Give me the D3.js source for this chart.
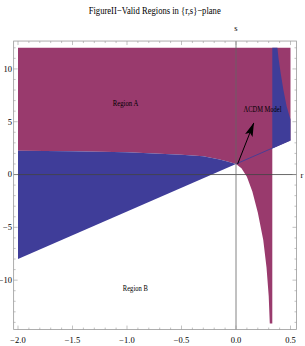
<!DOCTYPE html>
<html>
<head>
<meta charset="utf-8">
<script src="https://cdn.jsdelivr.net/npm/d3@7"></script>
<style>
  body { margin: 0; background: #fff; }
  svg { display: block; font-family: "Liberation Serif", "DejaVu Serif", serif; }
</style>
</head>
<body>
<svg id="chart" width="305" height="346"></svg>
<script>
// tick values
var xTicks = [-2, -1.5, -1, -0.5, 0, 0.5];
var yTicks = [-10, -5, 0, 5, 10];
var xTickLabels = ["\u22122.0", "\u22121.5", "\u22121.0", "\u22120.5", "0.0", "0.5"];
var yTickLabels = ["\u221210", "\u22125", "0", "5", "10"];

// region boundaries, [r, s]
var blueTopLeft = [[-2, 2.25], [-1.5, 2.2], [-1.0, 2.1], [-0.5, 1.88], [-0.3, 1.72], [-0.15, 1.42], [-0.07, 1.22], [0, 1.0]];
var lowerLine = [[-2, -8], [0, 1], [0.333, 2.5], [0.5, 3.25]];
var cuspEdge = [[0, 1], [0.05, 0.6], [0.1, -0.2], [0.15, -1.6], [0.2, -3.6], [0.25, -6.2], [0.28, -8.8], [0.3, -11.5], [0.31, -14.1]];
var rightBlueEdge = [[0.38, 12], [0.39, 11], [0.41, 9.6], [0.435, 8.0], [0.465, 6.45], [0.5, 5.2]];
var sTop = 12, sBottom = -14.1, rLeft = -2, rRight = 0.5, rWall = 0.333;

var arrowFrom = [0.015, 1.0], arrowTo = [0.163, 4.88];

var magenta = "#993a6d", blue = "#3f3d99";

var svg = d3.select("#chart");

var x = d3.scaleLinear().domain([-2, 0.5]).range([18, 290.5]);
var y = d3.scaleLinear().domain([-14.2, 12]).range([324.5, 47.8]);

var fx0 = x(-2.04), fx1 = x(0.555), fy0 = y(12.64), fy1 = y(-14.68);

var line = d3.line().x(function(d){ return x(d[0]); }).y(function(d){ return y(d[1]); });

// magenta region (Region A)
var magentaPoly = [[rLeft, sTop], [rRight, sTop], [rRight, 3.25], [rWall, 2.5], [rWall, sBottom]]
    .concat(cuspEdge.slice().reverse())
    .concat(blueTopLeft.slice().reverse());
svg.append("path").attr("d", line(magentaPoly) + "Z").attr("fill", magenta);

// blue on the left
var blueLeftPoly = blueTopLeft.concat([lowerLine[1], lowerLine[0]]);
svg.append("path").attr("d", line(blueLeftPoly) + "Z").attr("fill", blue);

// blue on the right
var blueRightPoly = [[rWall, sTop]].concat(rightBlueEdge).concat([[rRight, 3.25], [rWall, 2.5]]);
svg.append("path").attr("d", line(blueRightPoly) + "Z").attr("fill", blue);

// thin blue line r>0
svg.append("path").attr("d", line(lowerLine.slice(1)))
    .attr("fill", "none").attr("stroke", blue).attr("stroke-width", 0.9);

// axes through origin
svg.append("line").attr("x1", fx0).attr("x2", fx1).attr("y1", y(0)).attr("y2", y(0))
    .attr("stroke", "#444").attr("stroke-width", 0.8);
svg.append("line").attr("x1", x(0)).attr("x2", x(0)).attr("y1", fy0).attr("y2", fy1)
    .attr("stroke", "#666").attr("stroke-width", 0.8);

// frame
svg.append("rect").attr("x", fx0).attr("y", fy0).attr("width", fx1 - fx0).attr("height", fy1 - fy0)
    .attr("fill", "none").attr("stroke", "#999").attr("stroke-width", 0.8);

// frame ticks
var ticksG = svg.append("g").attr("stroke", "#999").attr("stroke-width", 0.6);
var xMinor = d3.range(-20, 6).map(function(i){ return i / 10; });
xMinor.forEach(function(v){
    var major = Math.abs(v * 2 - Math.round(v * 2)) < 1e-6;
    var len = major ? 4 : 2;
    ticksG.append("line").attr("x1", x(v)).attr("x2", x(v)).attr("y1", fy1).attr("y2", fy1 - len);
    ticksG.append("line").attr("x1", x(v)).attr("x2", x(v)).attr("y1", fy0).attr("y2", fy0 + len);
});
var yMinor = d3.range(-14, 13);
yMinor.forEach(function(v){
    var len = (v % 5 === 0) ? 4 : 2;
    ticksG.append("line").attr("y1", y(v)).attr("y2", y(v)).attr("x1", fx0).attr("x2", fx0 + len);
    ticksG.append("line").attr("y1", y(v)).attr("y2", y(v)).attr("x1", fx1).attr("x2", fx1 - len);
});

// tick labels
svg.selectAll(".xl").data(xTicks).enter().append("text")
    .attr("x", function(d){ return x(d); }).attr("y", 342.5)
    .attr("text-anchor", "middle").attr("font-size", 8.5).attr("fill", "#000")
    .text(function(d, i){ return xTickLabels[i]; });
svg.selectAll(".yl").data(yTicks).enter().append("text")
    .attr("x", 12).attr("y", function(d){ return y(d) + 2.8; })
    .attr("text-anchor", "end").attr("font-size", 8.5).attr("fill", "#000")
    .text(function(d, i){ return yTickLabels[i]; });

// axis names
svg.append("text").attr("x", x(0)).attr("y", 31).attr("text-anchor", "middle")
    .attr("font-size", 8.5).attr("fill", "#000").text("s");
svg.append("text").attr("x", 302).attr("y", y(0) + 3).attr("text-anchor", "middle")
    .attr("font-size", 8.5).attr("fill", "#000").text("r");

// title
svg.append("text").attr("x", 154.7).attr("y", 14).attr("text-anchor", "middle")
    .attr("font-size", 11).attr("fill", "#000")
    .attr("textLength", 132).attr("lengthAdjust", "spacingAndGlyphs")
    .text("FigureII\u2212Valid Regions in {r,s}\u2212plane");

// region labels
svg.append("text").attr("x", 125.5).attr("y", 105.5).attr("text-anchor", "middle")
    .attr("font-size", 8.5).attr("fill", "#000")
    .attr("textLength", 25.5).attr("lengthAdjust", "spacingAndGlyphs").text("Region A");
svg.append("text").attr("x", 135.3).attr("y", 291).attr("text-anchor", "middle")
    .attr("font-size", 8.5).attr("fill", "#000")
    .attr("textLength", 25).attr("lengthAdjust", "spacingAndGlyphs").text("Region B");
svg.append("text").attr("x", 262.5).attr("y", 111.5).attr("text-anchor", "middle")
    .attr("font-size", 8.5).attr("fill", "#000")
    .attr("textLength", 38).attr("lengthAdjust", "spacingAndGlyphs").text("\u039bCDM Model");

// arrow
svg.append("defs").append("marker").attr("id", "head")
    .attr("viewBox", "0 0 14 10").attr("refX", 13.5).attr("refY", 5)
    .attr("markerWidth", 14).attr("markerHeight", 10).attr("markerUnits", "userSpaceOnUse")
    .attr("orient", "auto")
    .append("path").attr("d", "M0,1 L14,5 L0,9 L3,5 Z").attr("fill", "#000");
svg.append("line")
    .attr("x1", x(arrowFrom[0])).attr("y1", y(arrowFrom[1]))
    .attr("x2", x(arrowTo[0])).attr("y2", y(arrowTo[1]))
    .attr("stroke", "#000").attr("stroke-width", 1).attr("marker-end", "url(#head)");
</script>
</body>
</html>
